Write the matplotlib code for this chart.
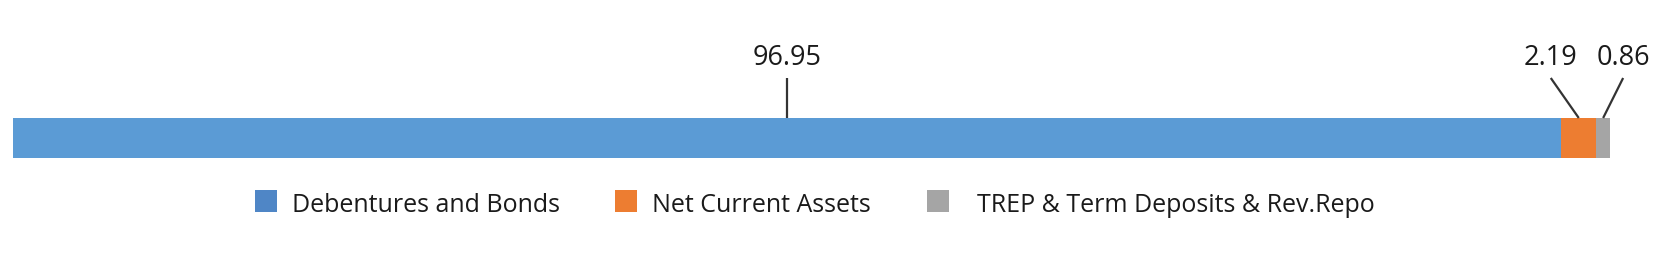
import matplotlib
matplotlib.use("Agg")
import matplotlib.pyplot as plt
from matplotlib.patches import Rectangle

categories = ["Debentures and Bonds", "Net Current Assets", "TREP & Term Deposits & Rev.Repo"]
values = [96.95, 2.19, 0.86]
colors = ["#5B9BD5", "#ED7D31", "#A5A5A5"]
legend_colors = ["#4F86C6", "#ED7D31", "#A5A5A5"]

W, H = 1668, 255
plt.rcParams['font.family'] = ['Open Sans', 'DejaVu Sans']
fig = plt.figure(figsize=(W / 100, H / 100), dpi=100)

# main bar axes: x pixel 13..1610, y in pixel units (inverted)
x0, x1 = 13, 1610
ax = fig.add_axes([x0 / W, 0, (x1 - x0) / W, 1])
ax.set_xlim(0, 100)
ax.set_ylim(H, 0)
ax.axis('off')

left = 0
centers = []
for v, c in zip(values, colors):
    ax.barh(139, v, left=left, height=40, color=c, edgecolor='none')
    centers.append(left + v / 2)
    left += v

px = 100 / (x1 - x0)  # data units per pixel
text_offsets = [0, -28, 20]   # pixel offsets of labels
for v, cx, off in zip(values, centers, text_offsets):
    tx = cx + off * px
    ax.text(tx, 65, f"{v:.2f}", ha='center', va='baseline', fontsize=19.5,
            color='#1a1a1a', clip_on=False)
    if off == 0:
        ax.plot([cx, cx], [79, 119], color='#333333', lw=1.6,
                solid_capstyle='butt', clip_on=False)
    else:
        ax.plot([tx, cx], [79, 119], color='#333333', lw=1.6,
                solid_capstyle='butt', clip_on=False)

# legend drawn in pixel coordinates
lax = fig.add_axes([0, 0, 1, 1])
lax.set_xlim(0, W)
lax.set_ylim(H, 0)
lax.axis('off')
sq_x = [255, 615, 927]
txt_x = [292, 652, 977]
for lab, c, sx, tx in zip(categories, legend_colors, sq_x, txt_x):
    lax.add_patch(Rectangle((sx, 191), 22, 22, color=c, lw=0))
    lax.text(tx, 212, lab, ha='left', va='baseline', fontsize=18, color='#1a1a1a')

fig.savefig("out.png", dpi=100)
